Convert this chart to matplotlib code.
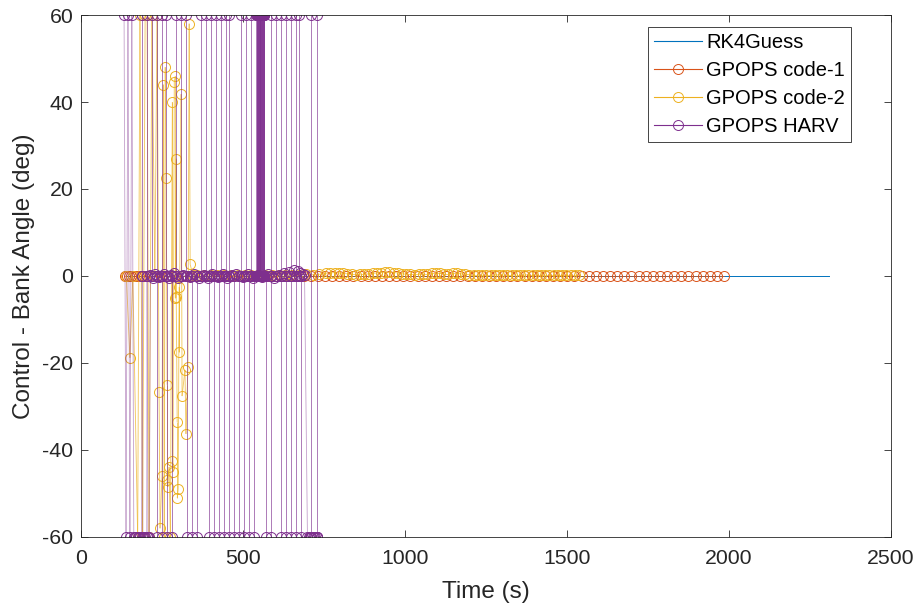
import matplotlib
matplotlib.use("Agg")
import matplotlib.pyplot as plt
from matplotlib.lines import Line2D
from matplotlib.collections import LineCollection

plt.rcParams['font.family'] = ['Liberation Sans', 'DejaVu Sans']
plt.rcParams['axes.unicode_minus'] = False

# ---------------- data ----------------
rk4_t = [140, 600, 1200, 1800, 2310]
rk4_v = [0.0, 0.0, 0.0, 0.0, 0.0]

code1_t = [136, 142, 148, 155, 162, 170, 178, 186, 195, 204,
           225, 247, 269, 291, 313, 335, 357, 379, 401, 423, 445, 467, 489, 511,
           533, 555, 577, 599, 621, 643, 665, 687, 709, 731, 753, 775, 797, 819,
           841, 863, 885, 907, 929, 951, 973, 995, 1017, 1039, 1061, 1083, 1105,
           1127, 1149, 1171, 1193, 1215, 1237, 1259, 1281, 1303, 1325, 1347, 1369,
           1391, 1413, 1435, 1457, 1479, 1501, 1523, 1545, 1567, 1589, 1611, 1633,
           1655, 1677, 1699, 1721, 1743, 1765, 1787, 1809, 1831, 1853, 1875, 1897,
           1919, 1941, 1963, 1985]
code1_v = [0.0] * len(code1_t)

code2_t = [140, 151, 160, 175, 182, 190, 198, 204, 210, 219, 228, 235, 241, 244,
           250, 254, 257, 260, 263, 266, 266, 268, 272, 276, 282, 282, 284, 288,
           291, 291, 294, 294, 297, 297, 300, 303, 303, 309, 312, 321, 324, 330,
           334, 337, 345,
           358, 379, 400, 421, 442, 463, 484, 505, 526, 547, 568, 589, 610, 631,
           652, 673, 694, 715, 736, 757, 770, 783, 796, 809, 822, 835, 848, 861,
           874, 887, 900, 913, 926, 939, 952, 965, 978, 991, 1004, 1017, 1030,
           1043, 1056, 1069, 1082, 1095, 1108, 1121, 1134, 1147, 1160, 1173, 1186,
           1199, 1212, 1225, 1238, 1251, 1264, 1277, 1290, 1303, 1316, 1329, 1342,
           1355, 1368, 1381, 1394, 1407, 1420, 1433, 1446, 1459, 1472, 1485, 1498,
           1511, 1524, 1537]
code2_v = [0.0, -18.8, 0.0, -60, 60, -60, 60, 60, -60, 60, 0.0, 60, -26.7, -58,
           -46, 44, -60, 48, 22.5, -25, -47, -48.5, -43.9, -60, 40, -42.5, -45, 44.6,
           46, -5, 27, -4.8, -33.6, -51, -49, -2.5, -17.5, 41.8, -27.6, -21.6, -36.3, -21,
           58, 2.7, 0.2,
           0.2, 0.3, 0.2, 0.2, 0.3, 0.2, 0.2, 0.3, 0.2, 0.2, 0.3, 0.2, 0.2, 0.3,
           0.2, 0.3, 0.4, 0.3, 0.4, 0.6, 0.7, 0.8, 0.7, 0.6, 0.5, 0.4, 0.3, 0.4,
           0.4, 0.5, 0.6, 0.7, 0.8, 0.9, 0.9, 0.8, 0.7, 0.5, 0.4, 0.4, 0.3,
           0.4, 0.5, 0.5, 0.6, 0.6, 0.6, 0.5, 0.5, 0.6, 0.6, 0.5, 0.4,
           0.3, 0.3, 0.3, 0.3, 0.3, 0.3, 0.3, 0.2, 0.3, 0.3, 0.3, 0.2,
           0.2, 0.2, 0.3, 0.3, 0.2, 0.2, 0.2, 0.2, 0.2, 0.2, 0.2, 0.2,
           0.2, 0.2, 0.2]

# GPOPS HARV: initial alternation, saturated plateaus and spikes
harv_start_t = [133, 139, 145, 151, 157, 163]
harv_start_v = [60, -60, 60, -60, 60, -60]
harv_low1_t = [167, 171, 175, 179, 183, 187, 191, 195, 199, 203, 207, 211]
harv_up_t = [189, 204, 219, 235, 250, 263, 294, 309, 325, 371, 387, 402, 418,
             433, 449, 458, 495, 510, 526,
             541, 542, 543, 544, 545, 546, 547, 548, 549, 550, 551, 552, 553,
             554, 555, 556, 557, 558, 559, 560, 561, 562, 563, 564, 565, 566,
             587, 603, 618, 634, 649, 665, 674, 711, 730]
harv_down_t = [235, 250, 266, 282, 328, 343, 359, 396, 411, 427, 442, 458, 473,
               489, 504, 520, 535, 572, 587, 618, 634, 649, 665, 680]
harv_zero_t = [214, 222, 230, 240, 256, 272, 278, 288, 300, 315, 335, 350, 365,
               380, 392, 405, 422, 437, 452, 465, 480, 500, 515, 530, 545, 560,
               578, 595, 610, 626, 642, 657, 670, 677, 684, 690]
harv_zero_v = [0.3, -0.4, 0.5, -0.3, 0.4, -0.5, 0.3, 0.6, -0.4, 0.3, -0.3, 0.4,
               -0.5, 0.3, -0.4, 0.5, -0.3, 0.4, -0.5, 0.3, 0.4, -0.3, 0.5, -0.4,
               0.3, -0.3, 0.4, -0.5, 0.3, 0.6, 1.0, 1.4, 1.2, 0.8, 0.5, 0.2]
harv_low2_t = [699, 703, 707, 711, 715, 719, 723, 727, 730]

# ---------------- build HARV sequence from the read lists ----------------
events = []
for t, v in zip(harv_start_t, harv_start_v):
    events.append((t, 0, [(t, v)]))
for t in harv_low1_t:
    events.append((t, 0, [(t, -60)]))
for t in harv_up_t:
    if t >= 699:
        events.append((t, 1, [(t, -60), (t, 60), (t, -60)]))
    else:
        events.append((t, 1, [(t, 0), (t, 60), (t, 0)]))
for t in harv_down_t:
    events.append((t, 2, [(t, 0), (t, -60), (t, 0)]))
for t, v in zip(harv_zero_t, harv_zero_v):
    events.append((t, 3, [(t, v)]))
for t in harv_low2_t:
    events.append((t, 4, [(t, -60)]))
events.sort(key=lambda e: (e[0], e[1]))
harv_t, harv_v = [], []
for _, _, pts in events:
    for t, v in pts:
        harv_t.append(t)
        harv_v.append(v)

# ---------------- plot ----------------
fig = plt.figure(figsize=(9.14, 6.10), dpi=100)
ax = fig.add_axes([0.0886, 0.1197, 0.8862, 0.8557])

c_blue = '#0072BD'
c_red = '#D95319'
c_yel = '#EDB120'
c_pur = '#7E2F8E'
ms = 7.2
mew = 0.7


def segs(t, v):
    pts = list(zip(t, v))
    return [[pts[i], pts[i + 1]] for i in range(len(pts) - 1)]


ax.plot(rk4_t, rk4_v, color=c_blue, lw=0.7)
# code-1
ax.plot(code1_t, code1_v, color=c_red, lw=0.6, alpha=0.75)
ax.plot(code1_t, code1_v, color=c_red, ls='none', marker='o', ms=ms, mfc='none', mew=mew)
# code-2
ax.add_collection(LineCollection(segs(code2_t, code2_v), colors=c_yel,
                                 linewidths=0.65, alpha=0.7))
ax.plot(code2_t, code2_v, color=c_yel, ls='none', marker='o', ms=ms, mfc='none', mew=mew)
# HARV
ax.add_collection(LineCollection(segs(harv_t, harv_v), colors=c_pur,
                                 linewidths=0.6, alpha=0.45))
ax.plot(harv_t, harv_v, color=c_pur, ls='none', marker='o', ms=ms, mfc='none', mew=mew)

handles = [
    Line2D([], [], color=c_blue, lw=0.8),
    Line2D([], [], color=c_red, lw=0.8, marker='o', ms=ms, mfc='none', mew=mew),
    Line2D([], [], color=c_yel, lw=0.8, marker='o', ms=ms, mfc='none', mew=mew),
    Line2D([], [], color=c_pur, lw=0.8, marker='o', ms=ms, mfc='none', mew=mew),
]
labels = ['RK4Guess', 'GPOPS code-1', 'GPOPS code-2', 'GPOPS HARV']

ax.set_xlim(0, 2500)
ax.set_ylim(-60, 60)
ax.set_xticks([0, 500, 1000, 1500, 2000, 2500])
ax.set_yticks([-60, -40, -20, 0, 20, 40, 60])
ax.tick_params(direction='in', length=5, width=0.6, colors='#262626',
               labelsize=15.3, top=True, right=True)
ax.tick_params(axis='x', pad=9)
ax.tick_params(axis='y', pad=5.5)
for s in ax.spines.values():
    s.set_color('#262626')
    s.set_linewidth(0.6)

ax.set_xlabel('Time (s)', fontsize=17.5, color='#262626')
ax.set_ylabel('Control - Bank Angle (deg)', fontsize=17.5, color='#262626')
ax.xaxis.set_label_coords(0.5, -0.105)
ax.xaxis.label.set_va('center')
ax.yaxis.set_label_coords(-0.070, 0.5)
ax.yaxis.label.set_va('center')

leg = ax.legend(handles, labels, loc='upper right', bbox_to_anchor=(0.931, 0.9557),
                bbox_transform=fig.transFigure, fontsize=14.5, frameon=True,
                fancybox=False, edgecolor='#262626', framealpha=1,
                borderpad=0.3, labelspacing=0.45, handlelength=2.4,
                handletextpad=0.2, borderaxespad=0)
leg.get_frame().set_linewidth(0.6)

fig.savefig('out.png', dpi=100)
